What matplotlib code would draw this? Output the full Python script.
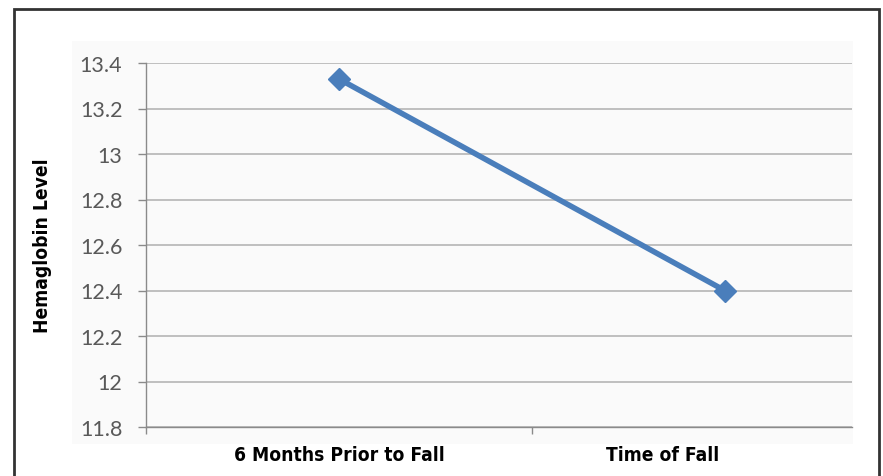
import matplotlib
matplotlib.use("Agg")
import matplotlib.pyplot as plt
from matplotlib.patches import Rectangle
from matplotlib import font_manager

categories = ["6 Months Prior to Fall", "Time of Fall"]
hemoglobin = [13.33, 12.40]
y_ticks = [11.8, 12.0, 12.2, 12.4, 12.6, 12.8, 13.0, 13.2, 13.4]
y_tick_labels = ["11.8", "12", "12.2", "12.4", "12.6", "12.8", "13", "13.2", "13.4"]
label_offsets = [0.0, -0.16]

W, H = 883, 477
fig = plt.figure(figsize=(W / 100, H / 100), dpi=100)
fig.patch.set_facecolor("white")

available = {f.name for f in font_manager.fontManager.ttflist}
tick_font = "Lato" if "Lato" in available else "DejaVu Sans"
label_style = dict(family="DejaVu Sans", fontstretch="condensed",
                   fontweight="bold", color="black", fontsize=13.8)

# chart frame and light plot-area background
fig.add_artist(Rectangle((14 / W, -0.05), (879 - 14) / W, (477 - 10) / H + 0.05,
                         transform=fig.transFigure, fill=False, edgecolor="#333333",
                         linewidth=2))
fig.add_artist(Rectangle((72 / W, (477 - 445) / H), (853 - 72) / W, (445 - 42) / H,
                         transform=fig.transFigure, facecolor="#fafafa",
                         edgecolor="none", zorder=0))

ax = fig.add_axes([146 / W, (477 - 428) / H, (852 - 146) / W, (428 - 64) / H])
ax.set_facecolor("#fafafa")

xs = list(range(len(categories)))
ax.plot(xs, hemoglobin, color="#4a7ebb", linewidth=4, marker="D",
        markersize=11, markerfacecolor="#4a7ebb", markeredgecolor="#4a7ebb",
        zorder=3, clip_on=False)

ax.set_ylim(y_ticks[0], y_ticks[-1])
ax.set_yticks(y_ticks)
ax.set_yticklabels(y_tick_labels, fontsize=15.5, color="#595959", family=tick_font)
ax.yaxis.grid(True, color="#b5b5b5", linewidth=1.2)
ax.set_axisbelow(True)

ax.set_xlim(-0.5, 1.33)
ax.set_xticks([-0.5, 0.5])
ax.set_xticklabels([])
ax.tick_params(axis="x", length=5, color="#8a8a8a", width=1)
ax.tick_params(axis="y", length=6, color="#8a8a8a", width=1, pad=11)

for side in ("top", "right"):
    ax.spines[side].set_visible(False)
for side in ("left", "bottom"):
    ax.spines[side].set_color("#8a8a8a")
    ax.spines[side].set_linewidth(1)

for x, name, off in zip(xs, categories, label_offsets):
    ax.text(x + off, -0.05, name, transform=ax.get_xaxis_transform(),
            ha="center", va="top", **label_style)

ax.set_ylabel("Hemaglobin Level", labelpad=20, **label_style)

fig.savefig("out.png", dpi=100, facecolor="white")
